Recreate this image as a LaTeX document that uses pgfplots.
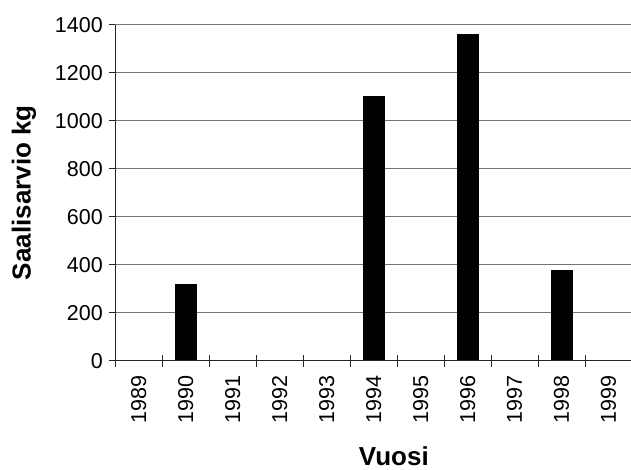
\documentclass[border=0pt]{standalone}
\usepackage{fontspec}
\setmainfont{Liberation Sans}
\usepackage{pgfplots}
\pgfplotsset{compat=1.18}
\pgfplotsset{
  common/.style={
    at={(115.3pt,109.3pt)}, anchor=south west,
    scale only axis, width=516.7pt, height=336pt,
    xmin=-0.5, xmax=10.5, ymin=0, ymax=1400,
  }
}
\begin{document}
\begin{tikzpicture}
\begin{axis}[
  common,
  axis x line*=bottom, axis y line*=left,
  axis line style={-, black!85, line width=1.1pt},
  ytick={0,200,...,1400},
  xtick={-0.5,0.5,...,10.5},
  xticklabels={1989,1990,1991,1992,1993,1994,1995,1996,1997,1998,1999},
  x tick label as interval=true,
  xtick style={draw=none},
  ytick style={black!85, line width=1pt},
  ytick align=outside,
  major tick length=6pt,
  ymajorgrids, major grid style={black!55, line width=0.8pt},
  /pgf/number format/assume math mode=true,
  /pgf/number format/1000 sep={},
  tick label style={font=\fontsize{21.5}{25}\selectfont},
  xticklabel style={yshift=-5pt, rotate=90, anchor=east},
  yticklabel style={xshift=-3pt},
  xlabel={Vuosi}, ylabel={Saalisarvio kg},
  label style={font=\fontsize{26}{30}\selectfont\bfseries},
  xlabel style={at={(axis description cs:0.539,-0.3130)}, anchor=base, inner sep=0pt},
  ylabel style={at={(axis description cs:-0.1767,0.5)}, anchor=center, rotate=0},
  ybar, bar width=21pt,
]
\addplot[fill=black, draw=black] coordinates {(1,318) (5,1100) (7,1360) (9,377)};
\end{axis}
\begin{axis}[
  common,
  axis x line*=bottom, hide y axis,
  axis line style={-, black!85, line width=1.1pt},
  xtick={-0.5,0.5,...,10.5}, xticklabels={},
  xtick style={black!85, line width=1pt},
  xtick align=center, major tick length=12pt,
]
\end{axis}
\pgfresetboundingbox
\path[use as bounding box] (0,0) rectangle (631pt,470pt);
\end{tikzpicture}
\end{document}
